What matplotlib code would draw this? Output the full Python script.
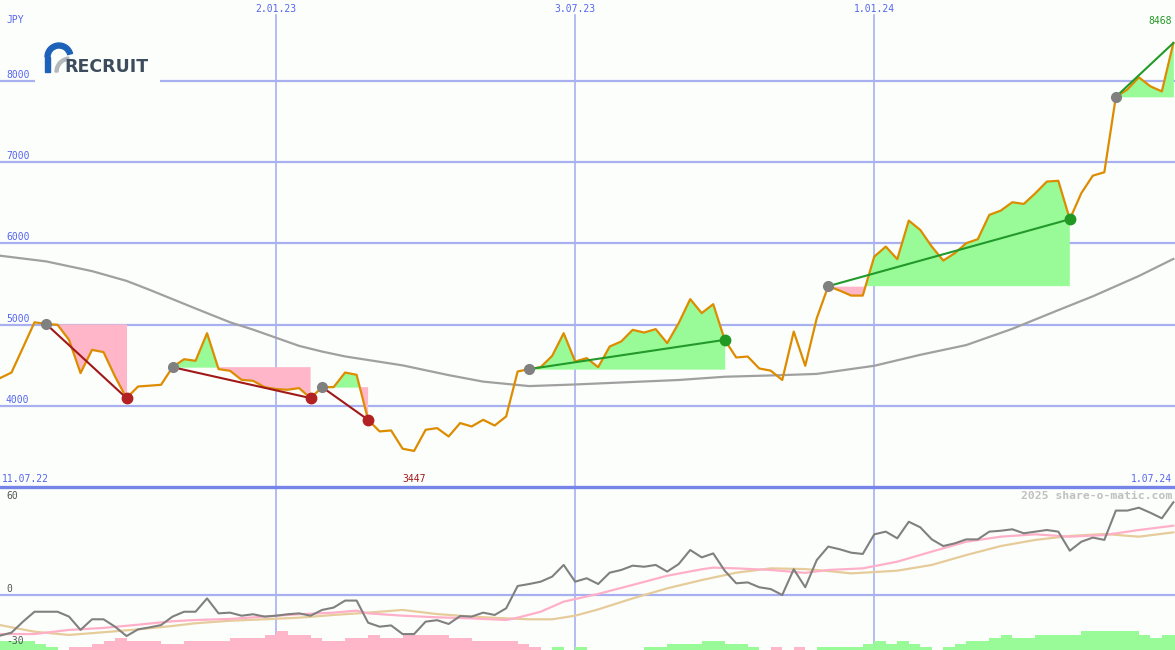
import matplotlib
matplotlib.use('Agg')
import matplotlib.pyplot as plt
from matplotlib.patches import Wedge, Rectangle
import numpy as np
import pandas as pd

# weekly closes, RECRUIT (JPY)
weeks = pd.date_range('2022-07-18', periods=103, freq='7D')

price = [4343, 4412, 4720, 5030, 5010, 5000, 4814, 4405, 4691, 4663,
         4363, 4097, 4240, 4250, 4261, 4478, 4576, 4556, 4896, 4454,
         4433, 4322, 4310, 4232, 4208, 4200, 4220, 4097, 4232, 4232,
         4412, 4384, 3830, 3687, 3699, 3474, 3447, 3707, 3728, 3625,
         3790, 3748, 3830, 3760, 3871, 4425, 4454, 4478, 4617, 4896,
         4548, 4589, 4478, 4732, 4794, 4937, 4904, 4946, 4774, 5020,
         5315, 5143, 5253, 4814, 4597, 4609, 4462, 4435, 4320, 4916,
         4495, 5080, 5475, 5420, 5359, 5359, 5839, 5962, 5807, 6282,
         6167, 5962, 5790, 5881, 6004, 6053, 6352, 6405, 6508, 6487,
         6618, 6762, 6772, 6299, 6620, 6835, 6877, 7805, 7895, 8045,
         7935, 7872, 8468]

# long moving average (grey), read at some weeks
ma_weeks = [0, 4, 8, 11, 13, 17, 20, 22, 26, 28, 30, 35, 39, 42, 46, 50,
            59, 63, 68, 71, 76, 80, 84, 88, 92, 95, 99, 102]
ma_vals = [5850, 5780, 5660, 5540, 5430, 5200, 5030, 4940, 4740, 4670,
           4610, 4500, 4380, 4300, 4245, 4265, 4320, 4360, 4380, 4395,
           4495, 4630, 4750, 4950, 5180, 5350, 5600, 5810]

# lower panel
mom = [-22.6, -20.9, -14.8, -9.3, -9.3, -9.3, -12.0, -19.4, -13.5, -13.5,
       -17.6, -22.8, -19.1, -18.0, -16.7, -12.0, -9.3, -9.3, -1.9, -10.2,
       -9.8, -11.5, -10.7, -12.0, -11.5, -10.7, -10.2, -11.5, -8.3, -7.0,
       -3.1, -3.1, -15.4, -17.6, -16.9, -21.7, -21.7, -14.8, -14.0, -16.1,
       -11.7, -12.0, -9.8, -11.1, -7.4, 5.0, 6.1, 7.4, 10.2, 16.7,
       7.4, 9.3, 6.1, 12.4, 13.9, 16.3, 15.7, 16.7, 13.0, 17.2,
       25.0, 20.9, 23.1, 13.5, 6.5, 7.0, 4.3, 3.3, 0.0, 14.3,
       4.3, 19.4, 26.9, 25.4, 23.5, 22.8, 33.7, 35.2, 31.5, 40.7,
       37.6, 30.9, 27.2, 28.7, 30.9, 30.9, 35.2, 35.7, 36.5, 34.3,
       35.2, 36.1, 35.2, 24.6, 29.6, 31.9, 30.6, 46.9, 46.9, 48.5,
       45.7, 42.6, 51.5]

pink_weeks = [0, 3, 6, 9, 12, 15, 17, 20, 23, 26, 29, 31, 32, 35, 38, 41, 44,
              45, 47, 49, 52, 55, 58, 61, 62, 64, 67, 70, 72, 75, 78, 81, 84,
              87, 90, 93, 96, 99, 102]
pink_vals = [-21.7, -21.7, -19.4, -18.3, -16.5, -14.6, -13.9, -13.3, -12.0,
             -10.7, -9.8, -8.7, -10.2, -11.5, -12.4, -13.0, -13.9, -12.6,
             -9.3, -3.7, 0.6, 5.6, 10.7, 14.3, 15.2, 14.8, 13.9, 12.3, 13.9,
             14.8, 18.5, 24.1, 29.6, 32.4, 33.7, 32.4, 33.3, 36.1, 38.5]

tan_weeks = [0, 3, 6, 9, 12, 15, 17, 20, 23, 26, 29, 32, 35, 38, 41, 44, 46,
             48, 50, 52, 55, 58, 61, 64, 67, 70, 72, 74, 78, 81, 84, 87, 90,
             93, 96, 99, 102]
tan_vals = [-16.7, -20.4, -22.2, -20.7, -19.1, -17.2, -15.7, -14.3, -13.5,
            -12.6, -11.1, -9.8, -8.3, -10.6, -12.0, -13.0, -13.5, -13.5,
            -11.5, -8.0, -1.9, 3.7, 8.3, 12.4, 14.8, 14.4, 13.3, 12.0, 13.5,
            16.7, 22.2, 27.2, 30.6, 32.8, 33.9, 32.4, 34.8]

hist = [5.0, 5.0, 5.0, 3.3, 1.7, 0, -1.7, -1.7, -3.3, -5.0,
        -6.7, -5.0, -5.0, -5.0, -3.3, -3.3, -5.0, -5.0, -5.0, -5.0,
        -6.7, -6.7, -6.7, -8.3, -10.5, -8.3, -8.3, -6.7, -5.0, -5.0,
        -6.7, -6.7, -8.3, -6.7, -6.7, -8.3, -8.3, -8.3, -8.3, -6.7,
        -6.7, -5.0, -5.0, -5.0, -5.0, -3.3, -1.7, 0, 1.7, 0,
        1.7, 0, 0, 0, 0, 0, 1.7, 1.7, 3.3, 3.3,
        3.3, 5.0, 5.0, 3.3, 3.3, 1.7, 0, -1.7, 0, -1.7,
        0, 1.7, 1.7, 1.7, 1.7, 3.3, 5.0, 3.3, 5.0, 3.3,
        1.7, 0, 1.7, 3.3, 5.0, 5.0, 6.7, 8.3, 6.7, 6.7,
        8.3, 8.3, 8.3, 8.3, 10.5, 10.5, 10.5, 10.5, 10.5, 8.3,
        6.7, 8.3, 8.3]

# signals: start week, end week, closed?
sig_start = [4, 15, 28, 46, 72, 97]
sig_end = [11, 27, 32, 63, 93, 102]
sig_closed = [True, True, True, True, True, False]

vlines = ['2023-01-02', '2023-07-03', '2024-01-01']
vline_labels = ['2.01.23', '3.07.23', '1.01.24']
price_ticks = [4000, 5000, 6000, 7000, 8000]
osc_ticks = [60, 0, -30]

bg = '#fcfefc'
grid = '#a8b0f0'
blue_txt = '#5566ee'
font = 'DejaVu Sans Mono'
W, H = 1175, 650

fig = plt.figure(figsize=(W / 100, H / 100), dpi=100, facecolor=bg)
ax1 = fig.add_axes([0, 163 / H, 1, 487 / H], facecolor=bg)
ax2 = fig.add_axes([0, 0, 1, 163 / H], facecolor=bg)
for ax in (ax1, ax2):
    ax.set_xticks([])
    ax.set_yticks([])
    for s in ax.spines.values():
        s.set_visible(False)
    ax.set_xlim(weeks[0], weeks[0] + pd.Timedelta(days=715))

ax1.set_ylim(3003, 8997)
ax2.set_ylim(-30.56, 60)

# grid
for v in price_ticks:
    ax1.axhline(v, color=grid, lw=1.6, zorder=1)
    ax1.text(6 / W, v + 75, str(v), transform=ax1.get_yaxis_transform(),
             color=blue_txt, fontsize=7, family=font, va='center')
for d, lab in zip(vlines, vline_labels):
    ax1.axvline(pd.Timestamp(d), ymax=1 - 15 / 487, color=grid, lw=1.2, zorder=1)
    ax2.axvline(pd.Timestamp(d), color=grid, lw=1.2, zorder=1)
    ax1.text(pd.Timestamp(d), 1 - 9 / 487, lab, transform=ax1.get_xaxis_transform(),
             color=blue_txt, fontsize=7, family=font, ha='center', va='center')
ax1.text(6 / W, 1 - 20 / 487, 'JPY', transform=ax1.transAxes, color=blue_txt,
         fontsize=7, family=font, va='center')

# signal fills
pr = np.array(price, dtype=float)
for s, e in zip(sig_start, sig_end):
    xs = weeks[s:e + 1]
    ys = pr[s:e + 1]
    lvl = pr[s]
    ax1.fill_between(xs, ys, lvl, where=ys >= lvl, interpolate=True,
                     color='#98fb98', lw=0, zorder=2)
    ax1.fill_between(xs, ys, lvl, where=ys <= lvl, interpolate=True,
                     color='#ffb6c8', lw=0, zorder=2)

ax1.plot(weeks[ma_weeks], ma_vals, color='#a0a0a0', lw=1.6, zorder=2)
ax1.plot(weeks, price, color='#dd8c00', lw=1.6, zorder=3)

for s, e, closed in zip(sig_start, sig_end, sig_closed):
    up = price[e] >= price[s]
    lc = '#22992a' if up else '#a01818'
    ax1.plot([weeks[s], weeks[e]], [price[s], price[e]], color=lc, lw=1.5, zorder=4)
    ax1.plot(weeks[s], price[s], 'o', color='#808080', ms=7, zorder=5)
    if closed:
        dc = '#229922' if up else '#b22222'
        ax1.plot(weeks[e], price[e], 'o', color=dc, ms=7.5, zorder=5)

# min / last labels
imin = int(np.argmin(pr))
ax1.text(weeks[imin], 8 / 487, str(price[imin]), transform=ax1.get_xaxis_transform(),
         color='#a01818', fontsize=7, family=font, ha='center', va='center')
ax1.text(1 - 3 / W, 1 - 21 / 487, str(price[-1]), transform=ax1.transAxes,
         color='#229922', fontsize=7, family=font, ha='right', va='center')
ax1.text(2 / W, 8 / 487, '11.07.22', transform=ax1.transAxes,
         color=blue_txt, fontsize=7, family=font, va='center')
ax1.text(1 - 3 / W, 8 / 487, '1.07.24', transform=ax1.transAxes,
         color=blue_txt, fontsize=7, family=font, ha='right', va='center')

# lower panel
ax2.axhline(0, color=grid, lw=1.6, zorder=1)
ax2.axhline(60, color='#7484e8', lw=2.4, zorder=6, clip_on=False)
colors = ['#98fb98' if v > 0 else '#ffb6c8' for v in hist]
ax2.bar(weeks, np.abs(hist), width=7, align='edge', bottom=-30.56,
        color=colors, lw=0, zorder=2)
ax2.plot(weeks[tan_weeks], tan_vals, color='#e6cc9a', lw=1.6, zorder=3)
ax2.plot(weeks[pink_weeks], pink_vals, color='#ffb0c8', lw=1.6, zorder=3)
ax2.plot(weeks, mom, color='#808080', lw=1.5, zorder=4)
osc_label_off = {60: -5.0, 0: 3.3, -30: 4.4}
for v in osc_ticks:
    ax2.text(6 / W, v + osc_label_off[v], str(v), color='#555555', fontsize=7,
             family=font, transform=ax2.get_yaxis_transform(), va='center')
ax2.text(1 - 3 / W, 1 - 9 / 163, '2025 share-o-matic.com', transform=ax2.transAxes,
         color='#c0c0c0', fontsize=8.2, family=font, fontweight='bold',
         ha='right', va='center')

# logo
lax = fig.add_axes([35 / W, 1 - 87 / H, 125 / W, 50 / H], facecolor=bg)
lax.set_xlim(0, 125)
lax.set_ylim(0, 50)
lax.set_xticks([])
lax.set_yticks([])
for s in lax.spines.values():
    s.set_visible(False)
lax.add_patch(Wedge((24, 30), 14, 15, 180, width=5, color='#1d62b8'))
lax.add_patch(Rectangle((10, 15), 5, 15, color='#1d62b8'))
lax.add_patch(Wedge((35, 15), 15, 95, 180, width=3, color='#b4b8bc'))
lax.text(29, 15, 'RECRUIT', color='#3c4c5c', fontsize=12.5, fontweight='bold',
         family='DejaVu Sans', va='baseline', ha='left')

fig.savefig('out.png', dpi=100, facecolor=bg)
